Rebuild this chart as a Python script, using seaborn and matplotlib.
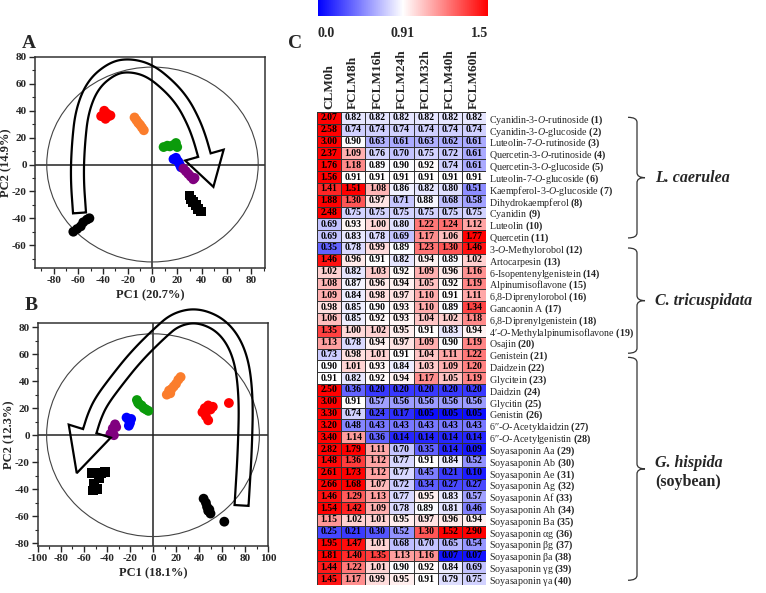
import numpy as np
import pandas as pd
import matplotlib
matplotlib.use('Agg')
import matplotlib.pyplot as plt
import seaborn as sns
from matplotlib.colors import LinearSegmentedColormap, TwoSlopeNorm
from matplotlib.patches import Ellipse, Polygon, PathPatch
from matplotlib.path import Path
from matplotlib.ticker import MultipleLocator, AutoMinorLocator

sns.set_style('ticks')
plt.rcParams['font.family'] = ['Liberation Serif', 'DejaVu Serif']
plt.rcParams['mathtext.fontset'] = 'custom'
plt.rcParams['mathtext.rm'] = 'Liberation Serif'
plt.rcParams['mathtext.it'] = 'Liberation Serif:italic'
plt.rcParams['mathtext.bf'] = 'Liberation Serif:bold'
plt.rcParams['axes.unicode_minus'] = False

# ---- PCA score data ----
groups = ['0h', '8h', '16h', '24h', '32h', '40h', '60h']
group_colors = ['black', '#ff0000', '#fb7d2c', '#0b9b0b', '#0000ff', '#80007f', 'black']
group_markers = ['o', 'o', 'o', 'o', 'o', 'o', 's']

# panel A
a_grp = ['0h'] * 6 + ['8h'] * 6 + ['16h'] * 6 + ['24h'] * 6 + ['32h'] * 6 + ['40h'] * 6 + ['60h'] * 6
a_pc1 = [-64, -61, -58, -56, -53, -51,
         -41.5, -39, -35.5, -38, -37, -34,
         -14.5, -13, -11.5, -10, -8.5, -7,
         9, 12, 14, 17, 19, 20,
         17, 19, 21, 22, 23, 20,
         25, 27, 29, 31, 33, 34,
         30, 31, 33, 35, 37, 39]
a_pc2 = [-50, -48, -46, -43, -41, -40,
         36, 40, 36, 34, 38, 36.5,
         35, 33, 31, 29.5, 27.5, 25.5,
         13, 14, 13.5, 14.5, 16, 13,
         4, 5, 2, 0, -2, 3,
         -3, -5, -7, -9, -11, -10,
         -23, -26, -28, -30, -33, -35]

# panel B
b_grp = ['0h'] * 7 + ['8h'] * 8 + ['16h'] * 8 + ['24h'] * 7 + ['32h'] * 5 + ['40h'] * 5 + ['60h'] * 7
b_pc1 = [44, 46, 47, 49, 50, 48, 62,
         43, 45, 48, 50, 46, 48, 52, 66,
         12, 14, 16, 18, 20, 22, 24, 15,
         -14, -12, -10, -8, -6, -4, -13,
         -23, -21, -20, -21, -19,
         -33, -35, -37, -34, -32,
         -53, -45, -42, -47, -51, -52, -49]
b_pc2 = [-47, -50, -53, -55, -58, -56, -64,
         17, 20, 22, 19, 14, 11, 21, 23.8,
         30, 33, 34, 36, 38, 41, 43, 31,
         26, 23, 22, 20, 19, 18, 24,
         13, 11, 9, 7, 12,
         8, 5, 1, 0, 6,
         -28, -28, -27, -32, -36, -41, -40]

# ---- heatmap data ----
cols = ['CLM0h', 'FCLM8h', 'FCLM16h', 'FCLM24h', 'FCLM32h', 'FCLM40h', 'FCLM60h']
clm0h = [2.07, 2.58, 3.00, 2.37, 1.76, 1.56, 1.41, 1.88, 2.48, 0.69,
         0.69, 0.35, 1.46, 1.02, 1.08, 1.09, 0.98, 1.06, 1.35, 1.13,
         0.73, 0.90, 0.91, 2.50, 3.00, 3.30, 3.20, 3.40, 2.82, 1.48,
         2.61, 2.66, 1.46, 1.54, 1.15, 0.25, 1.95, 1.81, 1.44, 1.45]
fclm8h = [0.82, 0.74, 0.90, 1.09, 1.18, 0.91, 1.51, 1.30, 0.75, 0.93,
          0.83, 0.78, 0.96, 0.82, 0.87, 0.84, 0.85, 0.85, 1.00, 0.78,
          0.98, 1.01, 0.82, 0.36, 0.91, 0.74, 0.48, 1.14, 1.79, 1.36,
          1.73, 1.68, 1.29, 1.42, 1.02, 0.21, 1.47, 1.40, 1.22, 1.17]
fclm16h = [0.82, 0.74, 0.63, 0.76, 0.89, 0.91, 1.08, 0.97, 0.75, 1.00,
           0.78, 0.99, 0.91, 1.03, 0.96, 0.98, 0.90, 0.92, 1.02, 0.94,
           1.01, 0.93, 0.92, 0.20, 0.57, 0.24, 0.43, 0.36, 1.11, 1.12,
           1.12, 1.07, 1.13, 1.09, 1.01, 0.30, 1.01, 1.35, 1.01, 0.99]
fclm24h = [0.82, 0.74, 0.61, 0.70, 0.90, 0.91, 0.86, 0.71, 0.75, 0.80,
           0.69, 0.89, 0.82, 0.92, 0.94, 0.97, 0.93, 0.93, 0.95, 0.97,
           0.91, 0.84, 0.94, 0.20, 0.56, 0.17, 0.43, 0.14, 0.70, 0.77,
           0.77, 0.72, 0.77, 0.78, 0.95, 0.52, 0.68, 1.13, 0.90, 0.95]
fclm32h = [0.82, 0.74, 0.63, 0.75, 0.92, 0.91, 0.82, 0.88, 0.75, 1.22,
           1.17, 1.23, 0.94, 1.09, 1.05, 1.10, 1.10, 1.04, 0.91, 1.09,
           1.04, 1.03, 1.17, 0.20, 0.56, 0.05, 0.43, 0.14, 0.35, 0.91,
           0.45, 0.34, 0.95, 0.89, 0.97, 1.30, 0.70, 1.16, 0.92, 0.91]
fclm40h = [0.82, 0.74, 0.62, 0.72, 0.74, 0.91, 0.80, 0.68, 0.75, 1.24,
           1.06, 1.30, 0.89, 0.96, 0.92, 0.91, 0.89, 1.02, 0.83, 0.90,
           1.11, 1.09, 1.05, 0.20, 0.56, 0.05, 0.43, 0.14, 0.14, 0.84,
           0.21, 0.27, 0.83, 0.81, 0.96, 1.52, 0.65, 0.07, 0.84, 0.79]
fclm60h = [0.82, 0.74, 0.61, 0.61, 0.61, 0.91, 0.51, 0.58, 0.75, 1.12,
           1.77, 1.46, 1.02, 1.16, 1.19, 1.11, 1.34, 1.18, 0.94, 1.19,
           1.22, 1.20, 1.19, 0.20, 0.56, 0.05, 0.43, 0.14, 0.09, 0.52,
           0.10, 0.27, 0.57, 0.46, 0.94, 2.90, 0.54, 0.07, 0.69, 0.75]

O = r'$\mathit{O}$'
compounds = [
    'Cyanidin-3-' + O + '-rutinoside', 'Cyanidin-3-' + O + '-glucoside',
    'Luteolin-7-' + O + '-rutinoside', 'Quercetin-3-' + O + '-rutinoside',
    'Quercetin-3-' + O + '-glucoside', 'Luteolin-7-' + O + '-glucoside',
    'Kaempferol-3-' + O + '-glucoside', 'Dihydrokaempferol', 'Cyanidin',
    'Luteolin', 'Quercetin', '3-' + O + '-Methylorobol', 'Artocarpesin',
    '6-Isopentenylgenistein', 'Alpinumisoflavone', '6,8-Diprenylorobol',
    'Gancaonin A', '6,8-Diprenylgenistein', '4\u2032-' + O + '-Methylalpinumisoflavone',
    'Osajin', 'Genistein', 'Daidzein', 'Glycitein', 'Daidzin', 'Glycitin',
    'Genistin', '6\u2032\u2032-' + O + '-Acetyldaidzin', '6\u2032\u2032-' + O + '-Acetylgenistin',
    'Soyasaponin Aa', 'Soyasaponin Ab', 'Soyasaponin Ae', 'Soyasaponin Ag',
    'Soyasaponin Af', 'Soyasaponin Ah', 'Soyasaponin Ba', 'Soyasaponin \u03b1g',
    'Soyasaponin \u03b2g', 'Soyasaponin \u03b2a', 'Soyasaponin \u03b3g',
    'Soyasaponin \u03b3a']
row_labels = [f'{n} $\\mathbf{{({i + 1})}}$' for i, n in enumerate(compounds)]

species = ['L. caerulea', 'C. tricuspidata', 'G. hispida']
brace_rows = [(0.45, 10.65), (11.5, 20.4), (20.75, 39.6)]

# ---- figure ----
W, H = 766, 593
fig = plt.figure(figsize=(W / 100, H / 100), dpi=100)


def px_axes(x0, y0, x1, y1):
    return fig.add_axes([x0 / W, 1 - y1 / H, (x1 - x0) / W, (y1 - y0) / H])


ax_a = px_axes(35, 57, 265, 268)
ax_b = px_axes(38, 323, 268, 546)
ax_h = px_axes(317, 112, 486, 585)
ax_cb = px_axes(318, 0, 488, 16)

palette = dict(zip(groups, group_colors))
markers = dict(zip(groups, group_markers))


def pca_panel(ax, x, y, g, xlim, ylim, xstep, ystep, xlabel, ylabel, ell):
    df = pd.DataFrame({'pc1': x, 'pc2': y, 'grp': g})
    sns.scatterplot(data=df, x='pc1', y='pc2', hue='grp', style='grp',
                    palette=palette, markers=markers, s=50, linewidth=0,
                    legend=False, ax=ax, zorder=3)
    ax.axhline(0, color='#222222', lw=1.1, zorder=1)
    ax.axvline(0, color='#222222', lw=1.1, zorder=1)
    ax.add_patch(Ellipse((0, 0), ell[0], ell[1], fill=False, ec='#444444', lw=0.8, zorder=1))
    ax.set_xlim(*xlim)
    ax.set_ylim(*ylim)
    ax.xaxis.set_major_locator(MultipleLocator(xstep))
    ax.yaxis.set_major_locator(MultipleLocator(ystep))
    ax.xaxis.set_minor_locator(AutoMinorLocator(2))
    ax.yaxis.set_minor_locator(AutoMinorLocator(2))
    ax.tick_params(which='major', direction='out', length=4, width=1, labelsize=8, pad=2)
    ax.tick_params(which='minor', direction='out', length=2, width=0.8)
    for lab in ax.get_xticklabels() + ax.get_yticklabels():
        lab.set_fontweight('bold')
    ax.set_xlabel(xlabel, fontsize=9, fontweight='bold', labelpad=3)
    ax.set_ylabel(ylabel, fontsize=9, fontweight='bold', labelpad=0)
    for sp in ax.spines.values():
        sp.set_color('#333333')
        sp.set_linewidth(1.1)


pca_panel(ax_a, a_pc1, a_pc2, a_grp, (-95, 91), (-77, 80), 20, 20,
          'PC1 (20.7%)', 'PC2 (14.9%)', (171, 145))
pca_panel(ax_b, b_pc1, b_pc2, b_grp, (-100, 100), (-82, 83), 20, 20,
          'PC1 (18.1%)', 'PC2 (12.3%)', (185, 150))


def chaikin(pts, n=4):
    pts = np.asarray(pts, float)
    for _ in range(n):
        q = 0.75 * pts[:-1] + 0.25 * pts[1:]
        r = 0.25 * pts[:-1] + 0.75 * pts[1:]
        mid = np.empty((2 * len(q), 2))
        mid[0::2] = q
        mid[1::2] = r
        pts = np.vstack([pts[0], mid, pts[-1]])
    return pts


def hollow_arrow(ax, way, shaft, head_w, head_len):
    xy = ax.transData.transform(chaikin(way))
    d = np.gradient(xy, axis=0)
    d /= np.linalg.norm(d, axis=1)[:, None]
    nrm = np.column_stack([-d[:, 1], d[:, 0]])
    left = xy + nrm * shaft / 2
    right = xy - nrm * shaft / 2
    end, tdir, tn = xy[-1], d[-1], nrm[-1]
    poly = np.vstack([left, end + tn * head_w / 2, end + tdir * head_len,
                      end - tn * head_w / 2, right[::-1]])
    poly = ax.transData.inverted().transform(poly)
    ax.add_patch(Polygon(poly, closed=True, fill=False, ec='black', lw=1.6,
                         joinstyle='miter', clip_on=False, zorder=4))


hollow_arrow(ax_a, [(-59, -36), (-61, -10), (-60, 15), (-57, 40), (-48, 60), (-32, 72),
                    (-18, 74), (-2, 70), (14, 58), (25, 46), (33, 32), (38, 20), (42, 7)],
             13, 40, 33)
hollow_arrow(ax_b, [(77, -52), (80, -10), (81, 30), (76, 60), (62, 80), (40, 89),
                    (20, 86), (5, 75), (-15, 58), (-32, 40), (-45, 25), (-51, 14), (-55, 3)],
             14, 44, 44)

# ---- heatmap ----
heat = pd.DataFrame(dict(zip(cols, [clm0h, fclm8h, fclm16h, fclm24h, fclm32h, fclm40h, fclm60h])),
                    index=row_labels)
cmap = LinearSegmentedColormap.from_list('bwr_c', ['#0000ff', '#ffffff', '#ff0000'])
norm = TwoSlopeNorm(vmin=0.0, vcenter=0.91, vmax=1.5)
sns.heatmap(heat, ax=ax_h, cmap=cmap, norm=norm, annot=True, fmt='.2f',
            annot_kws=dict(fontsize=7, fontweight='bold', color='black'),
            linewidths=0.7, linecolor='#333333', cbar=True, cbar_ax=ax_cb,
            cbar_kws=dict(orientation='horizontal'))
ax_h.xaxis.tick_top()
ax_h.set_xticks(np.arange(len(cols)) + 0.5)
ax_h.set_xticklabels(cols, rotation=90, fontsize=9.5, fontweight='bold', va='bottom')
ax_h.yaxis.tick_right()
ax_h.set_yticks(np.arange(len(row_labels)) + 0.5)
ax_h.set_yticklabels(row_labels, rotation=0, fontsize=7.2, ha='left')
ax_h.tick_params(axis='both', length=0, pad=2)
ax_h.set_xlabel('')
ax_h.set_ylabel('')

cb = ax_h.collections[0].colorbar
cb.set_ticks([0.0, 0.91, 1.5], labels=['0.0', '0.91', '1.5'])
cb.outline.set_visible(False)
ax_cb.tick_params(length=0, pad=8, labelsize=10)
cl = ax_cb.get_xticklabels()
for lab in cl:
    lab.set_fontweight('bold')
cl[0].set_ha('left')
cl[-1].set_ha('right')

# ---- overlay: panel letters, braces, species names ----
ax_ov = fig.add_axes([0, 0, 1, 1])
ax_ov.set_xlim(0, W)
ax_ov.set_ylim(H, 0)
ax_ov.axis('off')

for letter, (lx, ly) in zip(['A', 'B', 'C'], [(29, 43), (31, 305), (295, 43)]):
    ax_ov.text(lx, ly, letter, ha='center', va='center', fontsize=14, fontweight='bold')


def row_px(r):
    return H - ax_h.transData.transform((0, r))[1]


xl, xh, xt, rr = 637, 628, 645, 5
for name, (r0, r1) in zip(species, brace_rows):
    y0, y1 = row_px(r0), row_px(r1)
    ym = (y0 + y1) / 2
    verts = [(xh, y0), (xl, y0), (xl, y0 + rr), (xl, ym - rr), (xl, ym), (xt, ym),
             (xl, ym), (xl, ym + rr), (xl, y1 - rr), (xl, y1), (xh, y1)]
    codes = [Path.MOVETO, Path.CURVE3, Path.CURVE3, Path.LINETO, Path.CURVE3, Path.CURVE3,
             Path.CURVE3, Path.CURVE3, Path.LINETO, Path.CURVE3, Path.CURVE3]
    ax_ov.add_patch(PathPatch(Path(verts, codes), fill=False, ec='#333333', lw=0.9))
    if name == 'G. hispida':
        ax_ov.text(655, ym - 6, name, fontsize=11.5, fontweight='bold', style='italic', va='center')
        ax_ov.text(655, ym + 13, '(soybean)', fontsize=11.5, fontweight='bold', va='center')
    else:
        ax_ov.text(655, ym, name, fontsize=11.5, fontweight='bold', style='italic', va='center')

fig.savefig('out.png', dpi=100)
